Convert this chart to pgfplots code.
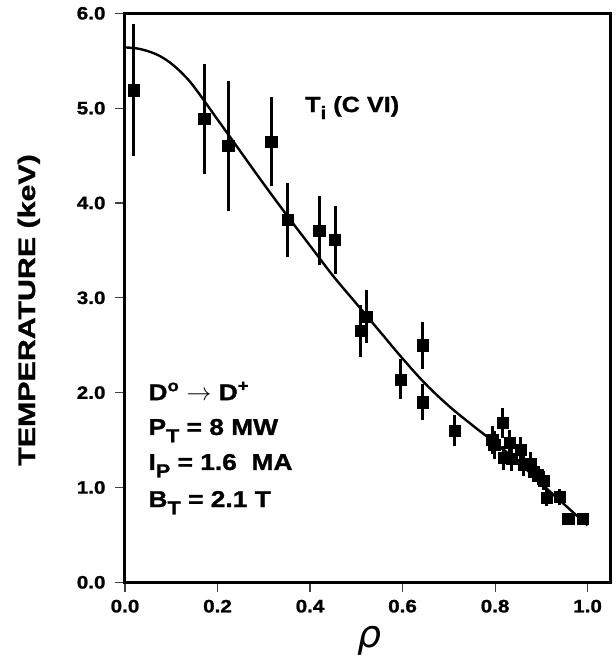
\documentclass[border=0pt]{standalone}
\usepackage{fontspec}
\setmainfont{Liberation Sans}[FakeStretch=1.15, BoldFeatures={FakeBold=1.2}]
\newfontfamily\ylabfont{Liberation Sans}[FakeStretch=1.27, BoldFeatures={FakeBold=1.2}]
\newfontfamily\rhofont{DejaVu Sans}
\usepackage{pgfplots}
\usepackage{pgfplotstable}
\pgfplotsset{compat=1.18}
\newcommand\lsub[1]{\raisebox{-0.32em}{\fontsize{0.82em}{1em}\selectfont #1}}
\pgfplotstableread{
x y e
0.018 5.19 0.70
0.171 4.89 0.58
0.223 4.60 0.69
0.316 4.65 0.47
0.351 3.82 0.39
0.420 3.71 0.36
0.454 3.61 0.36
0.510 2.65 0.27
0.522 2.80 0.28
0.596 2.14 0.21
0.643 2.50 0.25
0.643 1.90 0.19
0.712 1.60 0.16
0.794 1.50 0.15
0.798 1.45 0.15
0.816 1.68 0.16
0.831 1.47 0.14
0.818 1.31 0.13
0.836 1.30 0.13
0.856 1.40 0.13
0.862 1.24 0.12
0.876 1.25 0.12
0.884 1.17 0.11
0.893 1.13 0.10
0.905 1.07 0.10
0.912 0.89 0.09
0.940 0.90 0.08
0.958 0.67 0.06
0.990 0.67 0.06
}\data
\begin{document}
\begin{tikzpicture}
\begin{axis}[
  scale only axis,
  width=485.7bp, height=569bp,
  xmin=0, xmax=1.05, ymin=0, ymax=6,
  xtick={0,0.2,0.4,0.6,0.8,1.0},
  ytick={0,1,2,3,4,5,6},
  tick align=outside,
  xtick pos=bottom, ytick pos=left,
  major tick length=10bp,
  tick style={line width=1.1bp, black!75},
  axis line style={line width=3bp},
  /pgf/number format/.cd, fixed, fixed zerofill, precision=1, assume math mode=true,
  /pgfplots/.cd,
  ticklabel style={font=\bfseries\fontsize{18}{18}\selectfont},
  xticklabel style={yshift=-4bp},
  yticklabel style={xshift=-6bp},
  clip=false,
]
\addplot+[only marks, mark=square*, mark size=5.6bp, black,
  mark options={fill=black, draw=black},
  error bars/.cd, y dir=both, y explicit,
  error bar style={line width=3bp, black}, error mark=none]
  table[x=x, y=y, y error=e] {\data};
\addplot[line width=2.4bp, black, smooth, tension=0.6, mark=none] coordinates {
(0,5.64) (0.025,5.63) (0.05,5.60) (0.075,5.55) (0.10,5.47) (0.125,5.36)
(0.15,5.22) (0.20,4.88) (0.25,4.54)
(0.30,4.20) (0.35,3.87) (0.40,3.55) (0.45,3.23) (0.50,2.94) (0.55,2.65)
(0.60,2.36) (0.65,2.09) (0.70,1.86) (0.75,1.66) (0.80,1.47) (0.85,1.27)
(0.90,1.04) (0.95,0.82) (1.00,0.60)};
\node[anchor=base west, inner sep=0pt, font=\bfseries\fontsize{22}{22}\selectfont]
  at (axis description cs:0.3706,0.8265) {T\lsub{i} (C VI)};
\begin{scope}[every node/.style={anchor=base west, inner sep=0pt, font=\bfseries\fontsize{23}{23}\selectfont}]
\node at (axis description cs:0.048,0.3200) {D\textsuperscript{o} $\rightarrow$ D\textsuperscript{+}};
\node at (axis description cs:0.048,0.2590) {P\lsub{T} = 8 MW};
\node at (axis description cs:0.048,0.1974) {I\lsub{P} = 1.6~ MA};
\node at (axis description cs:0.048,0.1323) {B\lsub{T} = 2.1 T};
\end{scope}
\node[rotate=90, anchor=center, inner sep=0pt, font=\ylabfont\bfseries\fontsize{24}{24}\selectfont]
  at (axis description cs:-0.198,0.4786) {TEMPERATURE (keV)};
\node[anchor=center, inner sep=0pt, font=\rhofont\itshape\fontsize{38}{38}\selectfont]
  at (axis description cs:0.504,-0.1030) {ρ};
\end{axis}
\pgfresetboundingbox
\path ([shift={(-125bp,-81.7bp)}]current axis.south west) rectangle ([shift={(5.3bp,13.3bp)}]current axis.north east);
\end{tikzpicture}
\end{document}
